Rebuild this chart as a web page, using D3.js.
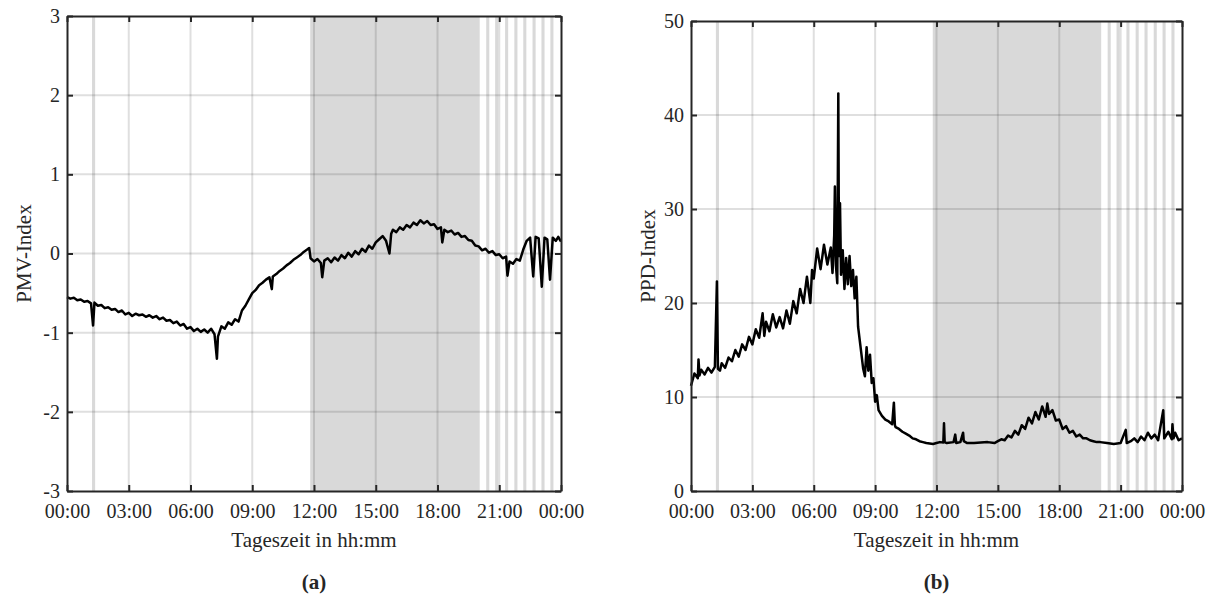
<!DOCTYPE html>
<html lang="de">
<head>
<meta charset="utf-8">
<title>PMV / PPD Tagesverlauf</title>
<script src="https://cdn.jsdelivr.net/npm/d3@7"></script>
<style>
  body { margin: 0; background: #fff; }
  svg text { font-family: "Liberation Serif", "Times New Roman", serif; fill: #262626; }
  .axis path, .axis line { stroke: #262626; }
</style>
</head>
<body>
<script>

// time of day in minutes
var pmvMinutes = [0,10,20,30,40,50,60,70,76,80,90,100,110,120,130,140,150,160,170,180,190,200,210,220,230,240,
  250,260,270,280,290,300,310,320,330,340,350,360,370,380,390,400,410,420,430,437,440,450,460,470,480,490,500,
  510,520,530,540,550,560,570,580,590,597,600,610,620,630,640,650,660,670,680,690,700,706,710,720,730,740,744,
  750,760,770,780,790,800,810,820,830,840,850,860,870,880,890,900,910,920,930,940,945,950,960,970,980,990,1000,
  1010,1020,1030,1040,1050,1060,1070,1080,1090,1094,1100,1110,1120,1130,1140,1150,1160,1170,1180,1190,1200,
  1210,1220,1230,1240,1250,1260,1270,1280,1284,1290,1300,1310,1320,1330,1340,1350,1359,1366,1375,1384,1392,
  1400,1408,1416,1425,1432,1440];
var pmvValues = [-0.55,-0.57,-0.56,-0.59,-0.58,-0.61,-0.60,-0.63,-0.91,-0.62,-0.66,-0.65,-0.69,-0.68,-0.71,-0.70,
  -0.74,-0.72,-0.77,-0.75,-0.79,-0.76,-0.78,-0.77,-0.80,-0.78,-0.81,-0.79,-0.83,-0.81,-0.85,-0.84,-0.88,-0.86,
  -0.91,-0.89,-0.95,-0.93,-0.98,-0.95,-0.99,-0.96,-1.00,-0.95,-1.02,-1.33,-1.05,-0.92,-0.95,-0.87,-0.90,-0.83,
  -0.86,-0.72,-0.66,-0.58,-0.50,-0.46,-0.40,-0.37,-0.33,-0.30,-0.45,-0.29,-0.26,-0.22,-0.19,-0.15,-0.12,-0.08,
  -0.05,-0.02,0.02,0.05,0.07,-0.06,-0.10,-0.07,-0.12,-0.30,-0.09,-0.06,-0.11,-0.05,-0.09,-0.02,-0.06,0.01,-0.04,
  0.03,-0.01,0.06,0.02,0.10,0.06,0.14,0.18,0.22,0.16,0.00,0.25,0.30,0.27,0.33,0.30,0.36,0.33,0.39,0.36,0.42,
  0.38,0.41,0.36,0.37,0.31,0.33,0.14,0.30,0.27,0.29,0.24,0.26,0.21,0.22,0.17,0.16,0.10,0.09,0.04,0.06,0.01,
  0.03,-0.02,-0.01,-0.06,-0.04,-0.28,-0.10,-0.13,-0.07,-0.09,0.05,0.16,0.20,-0.29,0.21,0.19,-0.42,0.20,0.18,
  -0.33,0.20,0.16,0.21,0.15];

var ppdMinutes = [0,10,20,22,25,30,40,50,60,70,76,79,85,90,100,110,120,130,140,150,160,170,180,190,200,210,215,
  220,230,240,250,260,270,280,290,300,310,320,330,340,350,355,360,370,380,390,400,410,415,420,422,425,429,432,
  434,437,440,445,450,455,460,465,470,475,480,485,490,495,500,505,510,515,520,525,530,535,540,545,550,560,570,
  580,590,595,598,600,610,620,630,640,650,660,670,680,690,700,710,720,730,740,742,744,750,770,775,778,790,798,
  800,810,830,850,870,890,900,910,920,930,940,950,960,970,980,990,1000,1010,1020,1030,1040,1045,1050,1060,1070,
  1080,1090,1100,1110,1120,1130,1140,1150,1160,1170,1180,1190,1200,1220,1240,1260,1275,1278,1290,1300,1310,
  1320,1330,1340,1350,1360,1370,1385,1388,1400,1410,1412,1415,1420,1430,1440];
var ppdValues = [11.2,12.5,12.0,14.0,12.3,12.9,12.4,13.1,12.6,13.2,22.3,13.0,12.8,13.6,13.1,14.2,13.8,15.0,14.3,
  15.6,15.0,16.4,15.6,17.2,16.3,18.9,16.5,18.0,17.0,18.8,17.4,18.5,17.3,19.2,17.8,20.2,18.9,21.5,20.0,22.8,20.0,
  23.5,22.6,25.8,23.6,26.2,24.1,25.9,23.2,27.2,32.4,24.0,22.1,42.3,25.0,30.6,23.0,25.6,21.5,24.8,22.0,25.0,21.8,
  23.5,20.5,22.8,17.5,16.0,14.5,13.0,12.2,15.3,12.8,14.5,11.5,12.0,9.5,10.2,8.6,8.0,7.6,7.4,7.1,9.4,7.0,6.8,6.6,
  6.3,6.1,5.9,5.6,5.5,5.3,5.2,5.1,5.05,5.0,5.1,5.2,5.15,7.2,5.2,5.1,5.2,6.0,5.1,5.2,6.2,5.3,5.1,5.1,5.15,5.2,
  5.1,5.3,5.5,5.4,5.9,5.7,6.4,6.0,7.0,6.6,7.8,7.2,8.4,7.6,9.0,7.9,9.3,8.2,8.6,7.5,7.6,6.6,6.9,6.2,6.4,5.8,6.0,
  5.6,5.6,5.4,5.3,5.2,5.2,5.1,5.0,5.1,6.5,5.1,5.3,5.6,5.2,5.8,5.4,6.2,5.6,6.0,5.4,8.6,5.6,6.3,5.5,7.1,5.6,6.2,
  5.4,5.6];

// shaded time intervals (minutes)
var shadeStart = [709, 73, 1222, 1248, 1277, 1304, 1330, 1357, 1383, 1409];
var shadeEnd   = [1203, 82, 1231, 1257, 1286, 1313, 1339, 1366, 1392, 1418];

var tickMinutes = [0, 180, 360, 540, 720, 900, 1080, 1260, 1440];
var tickLabels = ["00:00", "03:00", "06:00", "09:00", "12:00", "15:00", "18:00", "21:00", "00:00"];
var pmvTicks = [-3, -2, -1, 0, 1, 2, 3];
var ppdTicks = [0, 10, 20, 30, 40, 50];

var w = 1215;
var h = 596;

var svg = d3.select("body")
            .append("svg")
            .attr("width", w)
            .attr("height", h);

function drawPanel(left, right, top, bottom, yDomain, yTicks, xs, ys, yTitle, caption) {
    var xScale = d3.scaleLinear().domain([0, 1440]).range([left, right]);
    var yScale = d3.scaleLinear().domain(yDomain).range([bottom, top]);
    var g = svg.append("g");

    // shaded intervals
    g.selectAll("rect.shade")
     .data(d3.range(shadeStart.length))
     .enter()
     .append("rect")
     .attr("class", "shade")
     .attr("x", function(i) { return xScale(shadeStart[i]); })
     .attr("width", function(i) { return xScale(shadeEnd[i]) - xScale(shadeStart[i]); })
     .attr("y", top)
     .attr("height", bottom - top)
     .attr("fill", "#d9d9d9");

    // grid
    g.selectAll("line.gx")
     .data(tickMinutes.slice(1, -1))
     .enter()
     .append("line")
     .attr("x1", function(d) { return xScale(d); })
     .attr("x2", function(d) { return xScale(d); })
     .attr("y1", top)
     .attr("y2", bottom)
     .attr("stroke", "#262626")
     .attr("stroke-opacity", 0.15)
     .attr("stroke-width", 2);

    g.selectAll("line.gy")
     .data(yTicks.slice(1, -1))
     .enter()
     .append("line")
     .attr("x1", left)
     .attr("x2", right)
     .attr("y1", function(d) { return yScale(d); })
     .attr("y2", function(d) { return yScale(d); })
     .attr("stroke", "#262626")
     .attr("stroke-opacity", 0.15)
     .attr("stroke-width", 2);

    // data line
    var line = d3.line()
                 .x(function(d, i) { return xScale(xs[i]); })
                 .y(function(d) { return yScale(d); });

    g.append("path")
     .datum(ys)
     .attr("d", line)
     .attr("fill", "none")
     .attr("stroke", "#000")
     .attr("stroke-width", 2.5)
     .attr("stroke-linejoin", "round");

    // axes, ticks pointing inward
    var fmt = function(d, i) { return tickLabels[i]; };

    g.append("g")
     .attr("class", "axis")
     .attr("transform", "translate(0," + bottom + ")")
     .call(d3.axisBottom(xScale).tickValues(tickMinutes).tickFormat(fmt).tickSizeInner(-6).tickSizeOuter(0).tickPadding(13));

    g.append("g")
     .attr("class", "axis")
     .attr("transform", "translate(0," + top + ")")
     .call(d3.axisTop(xScale).tickValues(tickMinutes).tickFormat("").tickSizeInner(-6).tickSizeOuter(0));

    g.append("g")
     .attr("class", "axis")
     .attr("transform", "translate(" + left + ",0)")
     .call(d3.axisLeft(yScale).tickValues(yTicks).tickFormat(function(d) { return String(d); })
             .tickSizeInner(-6).tickSizeOuter(0).tickPadding(7));

    g.append("g")
     .attr("class", "axis")
     .attr("transform", "translate(" + right + ",0)")
     .call(d3.axisRight(yScale).tickValues(yTicks).tickFormat("").tickSizeInner(-6).tickSizeOuter(0));

    g.selectAll(".axis path").attr("stroke-width", 2);
    g.selectAll(".axis line").attr("stroke-width", 2);
    g.selectAll(".axis text")
     .attr("font-size", "20px")
     .attr("font-family", "Liberation Serif")
     .attr("fill", "#262626");

    // titles
    g.append("text")
     .attr("x", (left + right) / 2)
     .attr("y", 547)
     .attr("text-anchor", "middle")
     .attr("font-size", "21px")
     .text("Tageszeit in hh:mm");

    g.append("text")
     .attr("transform", "translate(" + (left - 36) + "," + ((top + bottom) / 2) + ") rotate(-90)")
     .attr("text-anchor", "middle")
     .attr("font-size", "21px")
     .text(yTitle);

    g.append("text")
     .attr("x", (left + right) / 2)
     .attr("y", 589)
     .attr("text-anchor", "middle")
     .attr("font-size", "21px")
     .attr("font-weight", "bold")
     .attr("fill", "#000")
     .text(caption);
}

drawPanel(67, 561, 16, 491, [-3, 3], pmvTicks, pmvMinutes, pmvValues, "PMV-Index", "(a)");
drawPanel(691, 1182, 21, 491, [0, 50], ppdTicks, ppdMinutes, ppdValues, "PPD-Index", "(b)");

</script>
</body>
</html>
